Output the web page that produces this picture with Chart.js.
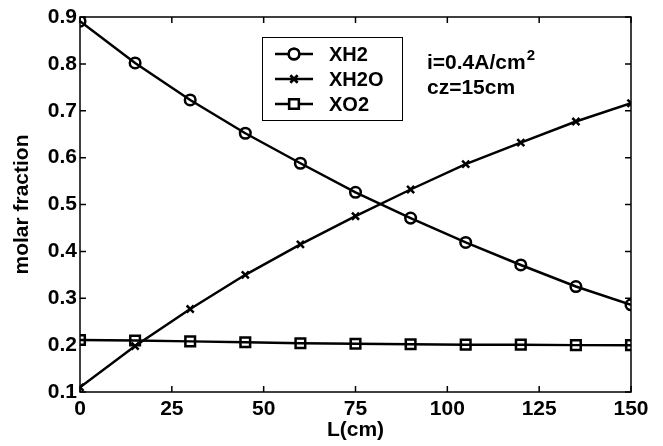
<!DOCTYPE html>
<html>
<head>
<meta charset="utf-8">
<script src="https://cdn.jsdelivr.net/npm/chart.js@4/dist/chart.umd.min.js"></script>
<style>
  html, body { margin: 0; padding: 0; background: #fff; }
  #wrap { width: 663px; height: 446px; }
</style>
</head>
<body>
<div id="wrap"><canvas id="molChart" width="663" height="446"></canvas></div>
<script>
// values
const lengths = [0, 15, 30, 45, 60, 75, 90, 105, 120, 135, 150];
const xh2  = [0.891, 0.802, 0.723, 0.652, 0.588, 0.526, 0.471, 0.419, 0.371, 0.325, 0.286];
const xh2o = [0.110, 0.198, 0.277, 0.350, 0.415, 0.475, 0.532, 0.586, 0.632, 0.677, 0.716];
const xo2  = [0.211, 0.210, 0.208, 0.206, 0.204, 0.203, 0.202, 0.201, 0.201, 0.200, 0.200];
const seriesNames = ['XH2', 'XH2O', 'XO2'];
const xTicks = [0, 25, 50, 75, 100, 125, 150];
const yTicks = [0.1, 0.2, 0.3, 0.4, 0.5, 0.6, 0.7, 0.8, 0.9];
const noteLines = ['i=0.4A/cm', 'cz=15cm'];

Chart.defaults.font.family = "'Liberation Sans', Arial, sans-serif";
Chart.defaults.color = '#000';

const styles = [
    { pointStyle: 'circle', pointRadius: 5.3 },
    { pointStyle: 'crossRot', pointRadius: 5 },
    { pointStyle: 'rect', pointRadius: 6.8 }
];

function toPoints(vals) {
    return lengths.map((l, i) => ({ x: l, y: vals[i] }));
}

// box, inward ticks, legend and note (matlab look)
const matlabFrame = {
    id: 'matlabFrame',
    afterDraw(chart) {
        const { ctx, chartArea: a, scales: { x, y } } = chart;
        ctx.save();
        ctx.strokeStyle = '#000';
        ctx.lineWidth = 1.5;
        ctx.strokeRect(a.left, a.top, a.right - a.left, a.bottom - a.top);
        const tl = 6;
        ctx.beginPath();
        xTicks.forEach(v => {
            const px = x.getPixelForValue(v);
            ctx.moveTo(px, a.bottom); ctx.lineTo(px, a.bottom - tl);
            ctx.moveTo(px, a.top); ctx.lineTo(px, a.top + tl);
        });
        yTicks.forEach(v => {
            const py = y.getPixelForValue(v);
            ctx.moveTo(a.left, py); ctx.lineTo(a.left + tl, py);
            ctx.moveTo(a.right, py); ctx.lineTo(a.right - tl, py);
        });
        ctx.stroke();

        // legend
        const lx = 262, ly = 37, lw = 140, lh = 83;
        ctx.fillStyle = '#fff';
        ctx.fillRect(lx, ly, lw, lh);
        ctx.lineWidth = 1;
        ctx.strokeRect(lx + 0.5, ly + 0.5, lw, lh);
        ctx.font = "bold 20px 'Liberation Sans', Arial, sans-serif";
        ctx.textBaseline = 'middle';
        chart.data.datasets.forEach((ds, i) => {
            const ry = 54 + i * 25;
            ctx.lineWidth = 2.5;
            ctx.strokeStyle = '#000';
            ctx.beginPath();
            ctx.moveTo(275, ry); ctx.lineTo(313, ry);
            ctx.stroke();
            ctx.fillStyle = '#fff';
            Chart.helpers.drawPoint(ctx, { pointStyle: ds.pointStyle, rotation: 0, radius: ds.pointRadius, borderWidth: 2.5 }, 294, ry);
            ctx.fill();
            ctx.stroke();
            ctx.fillStyle = '#000';
            ctx.fillText(ds.label, 329, ry + 1);
        });

        // note text
        ctx.textBaseline = 'alphabetic';
        ctx.font = "bold 21px 'Liberation Sans', Arial, sans-serif";
        ctx.fillText(noteLines[0], 427, 69);
        const w = ctx.measureText(noteLines[0]).width;
        ctx.font = "bold 15px 'Liberation Sans', Arial, sans-serif";
        ctx.fillText('2', 427 + w + 1, 60);
        ctx.font = "bold 21px 'Liberation Sans', Arial, sans-serif";
        ctx.fillText(noteLines[1], 427, 94);
        ctx.restore();
    }
};

const datasets = [xh2, xh2o, xo2].map((vals, i) => ({
    label: seriesNames[i],
    data: toPoints(vals),
    borderColor: '#000',
    backgroundColor: '#fff',
    borderWidth: 2.5,
    pointStyle: styles[i].pointStyle,
    pointRadius: styles[i].pointRadius,
    pointBorderWidth: 2.5,
    pointBackgroundColor: 'rgba(0,0,0,0)',
    pointBorderColor: '#000',
    tension: 0
}));

new Chart(document.getElementById('molChart').getContext('2d'), {
    type: 'line',
    data: { datasets: datasets },
    options: {
        responsive: false,
        animation: false,
        layout: { padding: { top: 17, right: 32, left: 0, bottom: 0 } },
        plugins: {
            legend: { display: false },
            tooltip: { enabled: false }
        },
        scales: {
            x: {
                type: 'linear',
                min: 0,
                max: 150,
                afterBuildTicks: s => { s.ticks = xTicks.map(v => ({ value: v })); },
                afterFit: s => { s.height = 54; },
                grid: { display: false, drawTicks: false },
                border: { display: false },
                ticks: { padding: 5, font: { size: 21, weight: 'bold' }, color: '#000', maxRotation: 0 },
                title: { display: true, text: 'L(cm)', padding: { top: 0, bottom: 3 }, font: { size: 21, weight: 'bold' }, color: '#000' }
            },
            y: {
                min: 0.1,
                max: 0.9,
                afterBuildTicks: s => { s.ticks = yTicks.map(v => ({ value: v })); },
                afterFit: s => { s.width = 80; },
                grid: { display: false, drawTicks: false },
                border: { display: false },
                ticks: { padding: 3, font: { size: 21, weight: 'bold' }, color: '#000', callback: v => v.toFixed(1) },
                title: { display: true, text: 'molar fraction', padding: { top: 10, bottom: 0 }, font: { size: 21, weight: 'bold' }, color: '#000' }
            }
        }
    },
    plugins: [matlabFrame]
});
</script>
</body>
</html>
